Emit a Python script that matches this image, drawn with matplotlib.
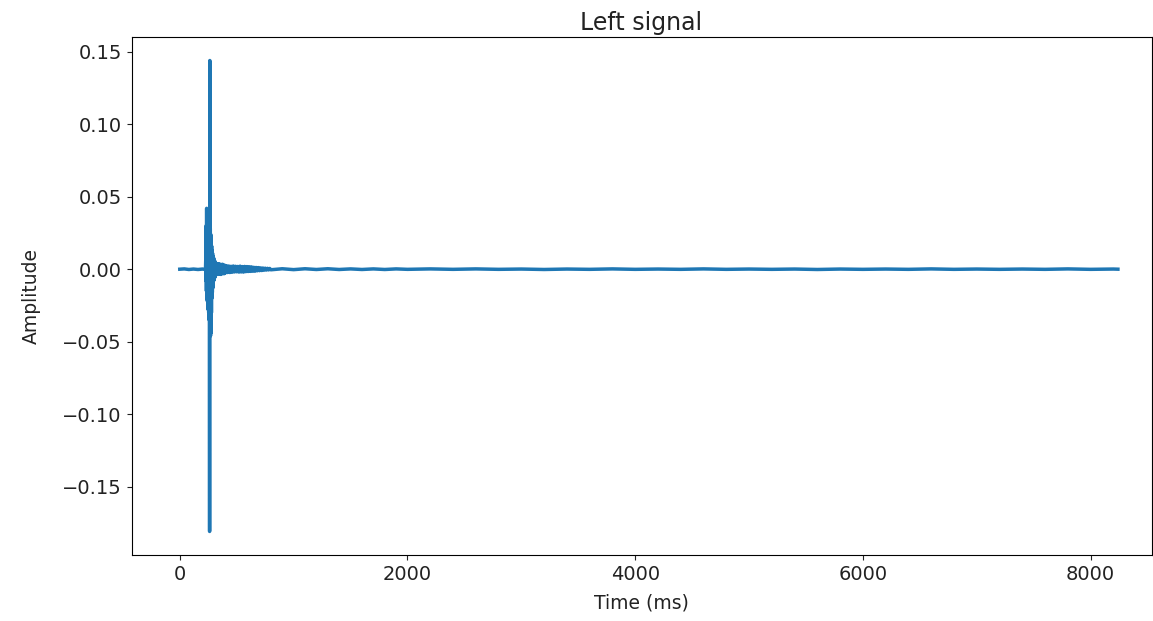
import matplotlib
matplotlib.use('Agg')
import matplotlib.pyplot as plt
import numpy as np

# quiet lead-in before the impulse (ms, amplitude)
pre_time = [0, 40, 80, 120, 160, 200, 226]
pre_amp = [0.0, 0.0002, -0.0002, 0.0001, -0.0002, 0.0001, -0.0002]

# main impulse and fast decay
spike_time = [228, 230, 232, 234, 236, 238, 240, 242, 244, 246, 248, 250, 252, 254,
              256, 258, 260, 262, 264, 266, 268, 270, 272, 274, 276, 278, 280, 282,
              284, 286, 288, 290, 292, 294, 296, 298, 300, 302, 304, 306, 308, 310,
              312, 314, 316, 318, 320, 322, 324, 326, 328, 330]
spike_amp = [0.006, -0.008, 0.030, -0.015, 0.042, -0.020, 0.040, -0.022, 0.038, -0.025,
             0.036, -0.028, 0.034, -0.030, 0.033, -0.035, 0.030, -0.181, 0.144, -0.040,
             0.028, -0.046, 0.024, -0.044, 0.020, -0.030, 0.016, -0.020, 0.013, -0.016,
             0.011, -0.013, 0.009, -0.010, 0.008, -0.008, 0.007, -0.007, 0.006, -0.006,
             0.005, -0.005, 0.005, -0.004, 0.004, -0.004, 0.004, -0.003, 0.003, -0.003,
             0.003, -0.003]

# slower ripple after the impulse
ripple_time = [335, 340, 345, 350, 355, 360, 365, 370, 375, 380, 385, 390, 395, 400,
               410, 420, 430, 440, 450, 460, 470, 480, 490, 500, 510, 520, 530, 540,
               550, 560, 570, 580, 590, 600, 610, 620, 630, 640, 650, 660, 670, 680,
               690, 700, 710, 720, 730, 740, 750, 760, 770, 780, 790]
ripple_amp = [0.0036, -0.0033, 0.0037, -0.0034, 0.0033, -0.0036, 0.0032, -0.0031, 0.0034,
              -0.0030, 0.0028, -0.0031, 0.0027, -0.0026, 0.0024, -0.0023, 0.0022, -0.0023,
              0.0020, -0.0021, 0.0022, -0.0019, 0.0020, -0.0018, 0.0019, -0.0020, 0.0021,
              -0.0019, 0.0018, -0.0020, 0.0019, -0.0017, 0.0018, -0.0016, 0.0017, -0.0015,
              0.0016, -0.0014, 0.0013, -0.0014, 0.0012, -0.0011, 0.0011, -0.0010, 0.0009,
              -0.0009, 0.0008, -0.0007, 0.0007, -0.0006, 0.0006, -0.0005, 0.0005]

# long noise floor tail
tail_time = [800, 900, 1000, 1100, 1200, 1300, 1400, 1500, 1600, 1700, 1800, 1900, 2000,
             2200, 2400, 2600, 2800, 3000, 3200, 3400, 3600, 3800, 4000, 4200, 4400, 4600,
             4800, 5000, 5200, 5400, 5600, 5800, 6000, 6200, 6400, 6600, 6800, 7000, 7200,
             7400, 7600, 7800, 8000, 8200, 8240]
tail_amp = [-0.0004, 0.0003, -0.0003, 0.0003, -0.0002, 0.0003, -0.0002, 0.0002, -0.0002,
            0.0002, -0.0002, 0.0002, -0.0001, 0.0002, -0.0001, 0.0002, -0.0001, 0.0001,
            -0.0002, 0.0001, -0.0001, 0.0002, -0.0001, 0.0001, -0.0001, 0.0002, -0.0001,
            0.0001, -0.0001, 0.0001, -0.0002, 0.0001, -0.0001, 0.0001, -0.0001, 0.0002,
            -0.0001, 0.0001, -0.0001, 0.0001, -0.0001, 0.0002, -0.0001, 0.0001, 0.0]

time_ms = np.concatenate([pre_time, spike_time, ripple_time, tail_time])
amplitude = np.concatenate([pre_amp, spike_amp, ripple_amp, tail_amp])

W, H = 1153, 621
fig = plt.figure(figsize=(W / 100, H / 100), dpi=100)
ax = fig.add_axes([131.5 / W, 1 - 555 / H, (1151.5 - 131.5) / W, (555 - 37) / H])

ax.plot(time_ms, amplitude, color='#1f77b4', linewidth=2.5)
ax.set_xlim(-424, 8535)
ax.set_xticks([0, 2000, 4000, 6000, 8000])
ax.set_yticks([-0.15, -0.10, -0.05, 0.00, 0.05, 0.10, 0.15])
ax.tick_params(labelsize=14, colors='#222222', labelcolor='#222222')
ax.set_xlabel('Time (ms)', fontsize=13.5, labelpad=7, color='#222222')
ax.set_ylabel('Amplitude', fontsize=13.5, labelpad=15, color='#222222')
ax.set_title('Left signal', fontsize=17, pad=5, color='#222222')

fig.savefig('out.png', dpi=100)
